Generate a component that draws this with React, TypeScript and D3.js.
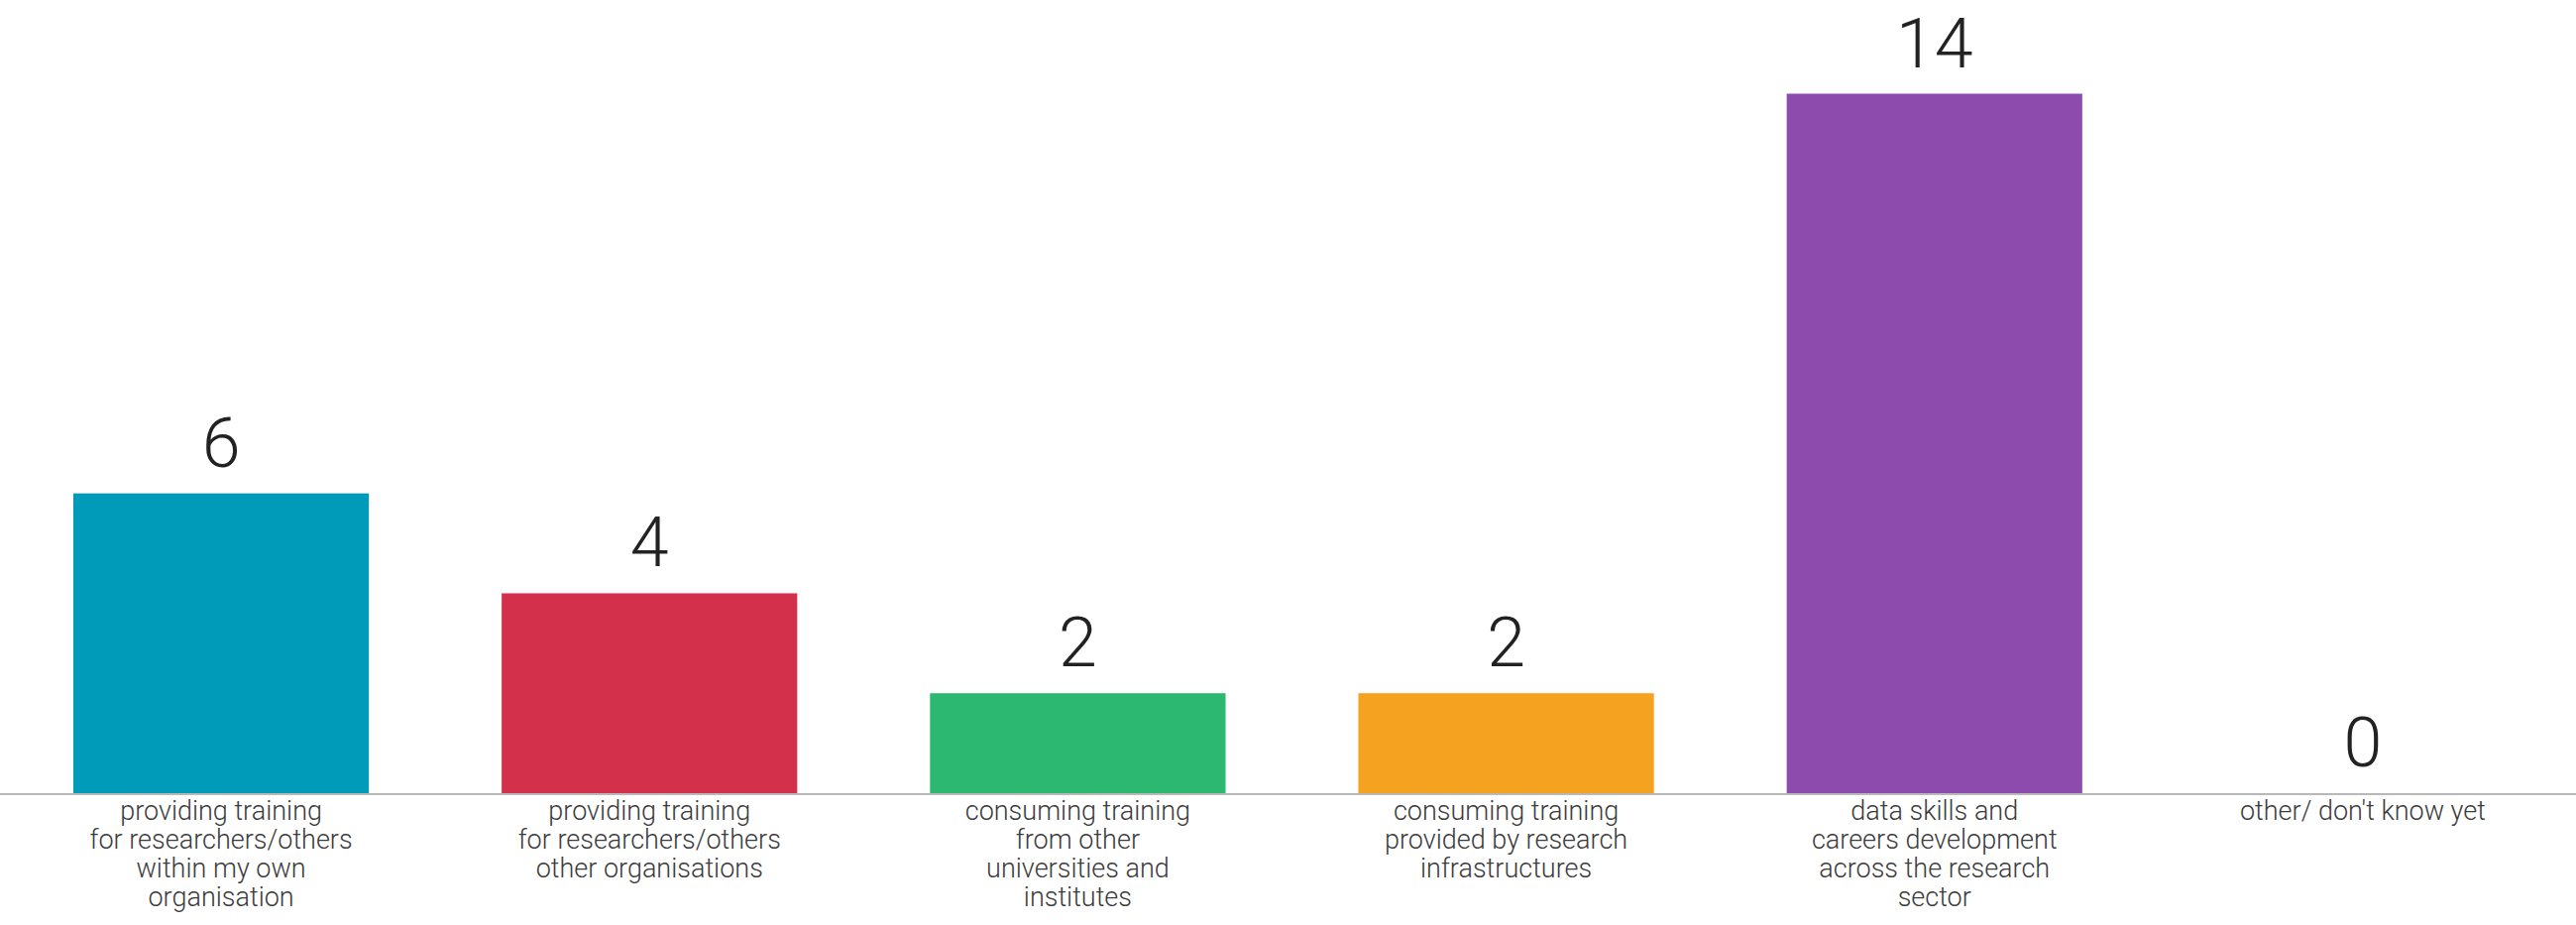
import React from "react";
import * as d3 from "d3";

const categories: string[][] = [
  ["providing training", "for researchers/others", "within my own", "organisation"],
  ["providing training", "for researchers/others", "other organisations"],
  ["consuming training", "from other", "universities and", "institutes"],
  ["consuming training", "provided by research", "infrastructures"],
  ["data skills and", "careers development", "across the research", "sector"],
  ["other/ don't know yet"],
];
const values: number[] = [6, 4, 2, 2, 14, 0];
const colors: string[] = ["#009BB8", "#D2304B", "#2DB872", "#F4A21F", "#8E4BAE", "#999999"];

const W = 2599;
const H = 933;
const axisY = 800;

export default function App() {
  const keys = categories.map((_, i) => String(i));
  const x = d3.scaleBand<string>().domain(keys).range([7, 2600]).paddingInner(0.31).paddingOuter(0.155);
  const y = d3.scaleLinear().domain([0, 14]).range([axisY, 94.5]);
  const font = "Roboto, 'Open Sans', Lato, sans-serif";
  return (
    <svg
      width={W}
      height={H}
      style={{ position: "absolute", left: 0, top: 0, background: "#fff" }}
    >
      <rect x={0} y={0} width={W} height={H} fill="#fff" />
      {values.map((v, i) => {
        const bx = x(String(i)) as number;
        return (
          <rect
            key={"b" + i}
            x={bx}
            y={y(v)}
            width={x.bandwidth()}
            height={axisY - y(v)}
            fill={colors[i]}
          />
        );
      })}
      <line x1={0} x2={W} y1={axisY + 1} y2={axisY + 1} stroke="#b8b8b8" strokeWidth={2} />
      {values.map((v, i) => {
        const cx = (x(String(i)) as number) + x.bandwidth() / 2;
        return (
          <text
            key={"v" + i}
            x={cx}
            y={y(v) - 27}
            textAnchor="middle"
            fontFamily={font}
            fontWeight={300}
            fontSize={70}
            fill="#222"
          >
            {v}
          </text>
        );
      })}
      {categories.map((lines, i) => {
        const cx = (x(String(i)) as number) + x.bandwidth() / 2;
        return (
          <text
            key={"c" + i}
            textAnchor="middle"
            fontFamily={font}
            fontWeight={300}
            fontSize={27}
            fill="#3c3c3c"
          >
            {lines.map((l, j) => (
              <tspan key={j} x={cx} y={827 + j * 29}>
                {l}
              </tspan>
            ))}
          </text>
        );
      })}
    </svg>
  );
}
